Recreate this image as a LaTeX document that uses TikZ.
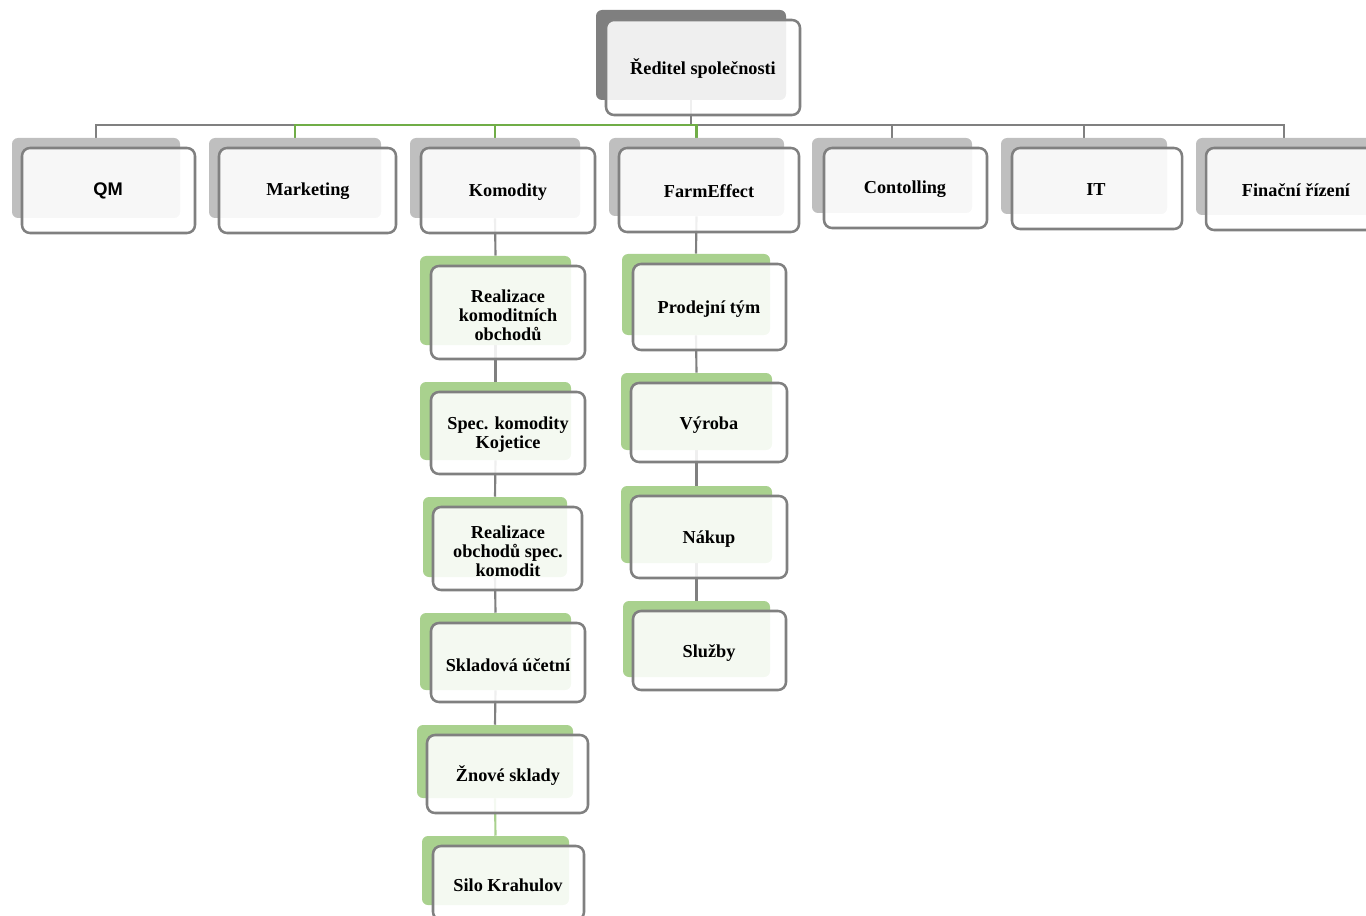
\documentclass[tikz,border=0pt]{standalone}
\usepackage{fontspec}
\setmainfont{Liberation Serif}
\newfontfamily\qmfont{Liberation Sans}
\usetikzlibrary{fit}
\definecolor{backgray}{HTML}{BFBFBF}
\definecolor{backdark}{HTML}{7F7F7F}
\definecolor{backgreen}{HTML}{A9D18E}
\definecolor{bordergray}{HTML}{808080}
\definecolor{linegreen}{HTML}{70AD47}
\pgfdeclarelayer{bg}
\pgfsetlayers{bg,main}
\tikzset{
  back/.style={fill=#1, draw=none, rounded corners=4.5pt, inner sep=0pt},
  front/.style={fill=white, fill opacity=0.88, draw=bordergray,
    line width=1.9pt, rounded corners=6pt, inner sep=0pt},
  lbl/.style={inner sep=0pt, align=center, yshift=-1.5pt,
    font=\fontsize{13.7}{14.25}\selectfont\bfseries},
  conn/.style={draw=bordergray, line width=1.6pt},
  conng/.style={draw=linegreen, line width=1.6pt},
  connlg/.style={draw=backgreen, line width=1.6pt},
}
\begin{document}
\begin{tikzpicture}[x=0.75pt,y=-0.75pt]
\useasboundingbox (0,0) rectangle (1366,916);
% back boxes
\node[back=backdark, fit={(596,10)(786,100)}] (topB) {};
\node[back=backgray, fit={(12,138)(180,218)}] (qmB) {};
\node[back=backgray, fit={(209,138)(381,218)}] (mktB) {};
\node[back=backgray, fit={(410,138)(580,218)}] (komB) {};
\node[back=backgray, fit={(609,138)(784,216)}] (farmB) {};
\node[back=backgray, fit={(812,138)(972,213)}] (ctlB) {};
\node[back=backgray, fit={(1001,138)(1167,214)}] (itB) {};
\node[back=backgray, fit={(1196,138)(1372,215)}] (finB) {};
\node[back=backgreen, fit={(420,256)(571,345)}] (k1B) {};
\node[back=backgreen, fit={(420,382)(571,460)}] (k2B) {};
\node[back=backgreen, fit={(423,497)(567,577)}] (k3B) {};
\node[back=backgreen, fit={(420,613)(571,690)}] (k4B) {};
\node[back=backgreen, fit={(417,725)(573,798)}] (k5B) {};
\node[back=backgreen, fit={(422,836)(569,905)}] (k6B) {};
\node[back=backgreen, fit={(622,254)(770,335)}] (f1B) {};
\node[back=backgreen, fit={(621,373)(772,450)}] (f2B) {};
\node[back=backgreen, fit={(621,486)(772,563)}] (f3B) {};
\node[back=backgreen, fit={(623,601)(770,677)}] (f4B) {};
% front boxes
\node[front, fit={(606,20)(800,115)}] (top) {};
\node[front, fit={(22,148)(195,233)}] (qm) {};
\node[front, fit={(219,148)(396,233)}] (mkt) {};
\node[front, fit={(421,148)(595,233)}] (kom) {};
\node[front, fit={(619,148)(799,232)}] (farm) {};
\node[front, fit={(824,148)(987,228)}] (ctl) {};
\node[front, fit={(1012,148)(1182,229)}] (it) {};
\node[front, fit={(1206,148)(1386,230)}] (fin) {};
\node[front, fit={(431,266)(585,359)}] (k1) {};
\node[front, fit={(431,392)(585,474)}] (k2) {};
\node[front, fit={(433,507)(582,590)}] (k3) {};
\node[front, fit={(431,623)(585,702)}] (k4) {};
\node[front, fit={(427,735)(588,813)}] (k5) {};
\node[front, fit={(433,846)(584,920)}] (k6) {};
\node[front, fit={(633,264)(786,350)}] (f1) {};
\node[front, fit={(631,383)(787,462)}] (f2) {};
\node[front, fit={(631,496)(787,578)}] (f3) {};
\node[front, fit={(633,611)(786,690)}] (f4) {};
% labels
\node[lbl] (topT) at (703,67) {Ředitel společnosti};
\node[lbl] (qmT) at (108,189) {\qmfont\bfseries QM};
\node[lbl] (mktT) at (308,189) {Marketing};
\node[lbl] (komT) at (508,190) {Komodity};
\node[lbl] (farmT) at (709,189) {FarmEffect};
\node[lbl] (ctlT) at (905,187) {Contolling};
\node[lbl] (itT) at (1096,188) {IT};
\node[lbl] (finT) at (1296,188) {Finační řízení};
\node[lbl] (k1T) at (508,313) {Realizace\\komoditních\\obchodů};
\node[lbl] (k2T) at (508,433) {Spec. komodity\\Kojetice};
\node[lbl] (k3T) at (508,549) {Realizace\\obchodů spec.\\komodit};
\node[lbl] (k4T) at (508,663) {Skladová účetní};
\node[lbl] (k5T) at (508,774) {Žnové sklady};
\node[lbl] (k6T) at (508,883) {Silo Krahulov};
\node[lbl] (f1T) at (709,307) {Prodejní tým};
\node[lbl] (f2T) at (709,423) {Výroba};
\node[lbl] (f3T) at (709,537) {Nákup};
\node[lbl] (f4T) at (709,651) {Služby};
\coordinate (bus) at (0,125);
\begin{pgfonlayer}{bg}
\draw[conn] (topB.south) -- (topB.south |- bus);
\draw[conn] (qmB.north) -- (qmB.north |- bus) -- (finB.north |- bus) -- (finB.north);
\draw[conn] (ctlB.north) -- (ctlB.north |- bus);
\draw[conn] (itB.north) -- (itB.north |- bus);
\draw[conng] (mktB.north) -- (mktB.north |- bus) -- (farmB.north |- bus) -- (farmB.north);
\draw[conng] (komB.north) -- (komB.north |- bus);
\draw[conn] (komB.south) -- (k1B.north);
\draw[conn] (k1B.south) -- (k2B.north);
\draw[conn] (k2B.south) -- (k3B.north);
\draw[conn] (k3B.south) -- (k4B.north);
\draw[conn] (k4B.south) -- (k5B.north);
\draw[connlg] (k5B.south) -- (k6B.north);
\draw[conn] (farmB.south) -- (f1B.north);
\draw[conn] (f1B.south) -- (f2B.north);
\draw[conn] (f2B.south) -- (f3B.north);
\draw[conn] (f3B.south) -- (f4B.north);
\end{pgfonlayer}
\end{tikzpicture}
\end{document}
